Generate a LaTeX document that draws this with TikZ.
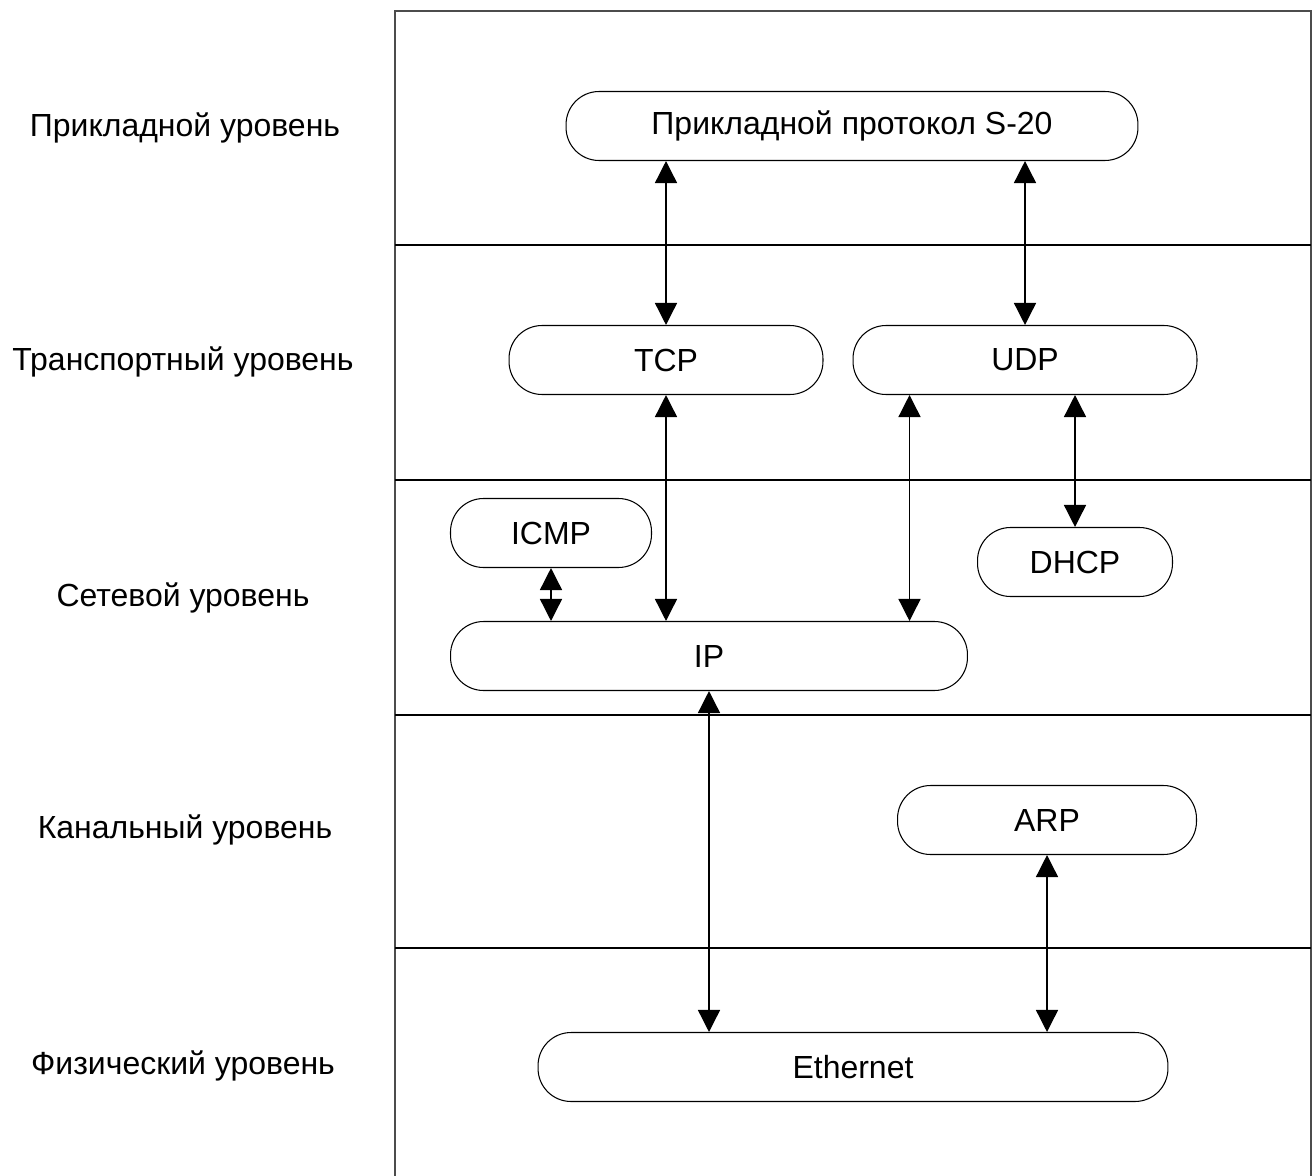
\documentclass[tikz,border=0pt]{standalone}
\usepackage{fontspec}
\setmainfont{Liberation Sans}
\usetikzlibrary{positioning, calc, arrows.meta}

\begin{document}
\begin{tikzpicture}[x=0.02cm, y=-0.02cm,
    proto/.style={draw, line width=0.6pt, rounded corners=0.66cm, minimum height=1.38cm, inner sep=0pt, font=\fontsize{18.2}{21}\selectfont},
    lvl/.style={font=\fontsize{18.2}{21}\selectfont},
    link/.style={{Triangle[length=0.44cm, width=0.44cm]}-{Triangle[length=0.44cm, width=0.44cm]}, line width=0.8pt}]
    \useasboundingbox (0,0) rectangle (1315,1176);

    % frame and layers
    \draw[line width=0.8pt, black!70] (395,1176) -- (395,11) -- (1311,11) -- (1311,1176);
    \foreach \y in {245, 480, 715, 948}
        \draw[line width=0.6pt] (395,\y) -- (1311,\y);

    % layer names
    \node[lvl] (app-l) at (185,128) {Прикладной уровень};
    \node[lvl] (tr-l) at (183,362) {Транспортный уровень};
    \node[lvl] (net-l) at (183,598) {Сетевой уровень};
    \node[lvl] (link-l) at (185,830) {Канальный уровень};
    \node[lvl] (phy-l) at (183,1066) {Физический уровень};

    % protocols
    \node[proto, minimum width=11.44cm] (app) at (852,126) {Прикладной протокол S-20};
    \node[proto, minimum width=6.28cm] (tcp) at (666,360) {TCP};
    \node[proto, minimum width=6.88cm] (udp) at (1025,360) {UDP};
    \node[proto, minimum width=4.02cm] (icmp) at (551,533) {ICMP};
    \node[proto, minimum width=3.9cm] (dhcp) at (1075,562) {DHCP};
    \node[proto, minimum width=10.34cm] (ip) at (709,656) {IP};
    \node[proto, minimum width=5.98cm] (arp) at (1047,820) {ARP};
    \node[proto, minimum width=12.6cm] (eth) at (853,1067) {Ethernet};

    % links
    \coordinate (udp-ip) at ($(udp.south west)+(57,0)$);
    \draw[link] (tcp.north |- app.south) -- (tcp.north);
    \draw[link] (udp.north |- app.south) -- (udp.north);
    \draw[link] (tcp.south) -- (tcp.south |- ip.north);
    \draw[link] (udp-ip) -- (udp-ip |- ip.north);
    \draw[link] (dhcp.north |- udp.south) -- (dhcp.north);
    \draw[link] (icmp.south) -- (icmp.south |- ip.north);
    \draw[link] (ip.south) -- (ip.south |- eth.north);
    \draw[link] (arp.south) -- (arp.south |- eth.north);
\end{tikzpicture}
\end{document}
